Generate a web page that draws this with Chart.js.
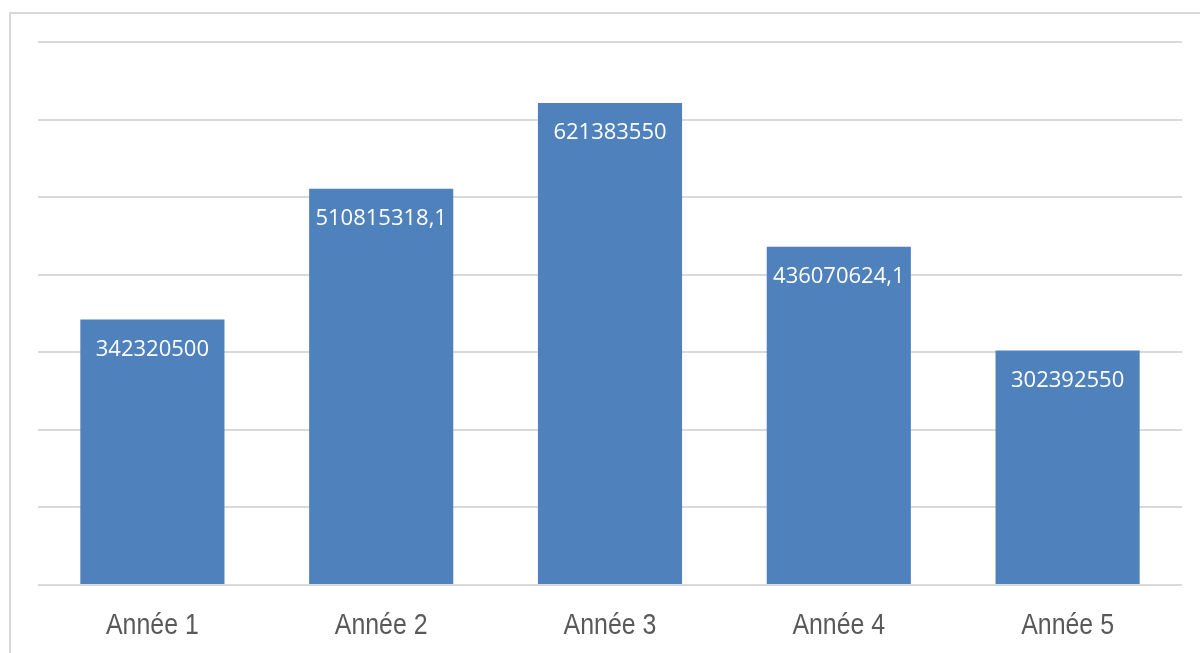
<!DOCTYPE html>
<html>
<head>
<meta charset="utf-8">
<script src="https://cdn.jsdelivr.net/npm/chart.js@4/dist/chart.umd.min.js"></script>
<style>
  html, body { margin: 0; padding: 0; background: #fff; overflow: hidden; }
  .frame { position: absolute; left: 9px; top: 12px; width: 1300px; height: 800px; border: 2px solid #d9d9d9; }
  #chart { position: absolute; left: 0; top: 0; }
</style>
</head>
<body>
<div class="frame"></div>
<canvas id="chart" width="1200" height="653"></canvas>
<script>
const categories = ['Année 1', 'Année 2', 'Année 3', 'Année 4', 'Année 5'];
const values = [342320500, 510815318.1, 621383550, 436070624.1, 302392550];
const yMax = 700000000;
const yStep = 100000000;

// labels inside the top of each bar, french decimal comma
const barLabels = {
  id: 'barLabels',
  afterDatasetsDraw(chart) {
    const ctx = chart.ctx;
    const meta = chart.getDatasetMeta(0);
    ctx.save();
    ctx.font = '22px "Open Sans", "Noto Sans", sans-serif';
    ctx.fillStyle = '#ffffff';
    ctx.textAlign = 'center';
    ctx.textBaseline = 'middle';
    meta.data.forEach((bar, i) => {
      const txt = String(values[i]).replace('.', ',');
      ctx.fillText(txt, bar.x, bar.y + 30);
    });
    ctx.restore();
  }
};

// category names, narrow look like the original (squeezed horizontally)
const narrowTicks = {
  id: 'narrowTicks',
  afterDraw(chart) {
    const ctx = chart.ctx;
    const xs = chart.scales.x;
    const sx = 0.83;
    ctx.save();
    ctx.font = '30px "Liberation Sans", Arial, sans-serif';
    ctx.fillStyle = '#595959';
    ctx.textAlign = 'center';
    ctx.textBaseline = 'alphabetic';
    ctx.scale(sx, 1);
    categories.forEach((c, i) => {
      ctx.fillText(c, xs.getPixelForValue(i) / sx, xs.top + 49);
    });
    ctx.restore();
  }
};

let ctx = document.getElementById('chart').getContext('2d');

let myChart = new Chart(ctx, {
  type: 'bar',
  data: {
    labels: categories,
    datasets: [{
      data: values,
      backgroundColor: '#4f81bd',
      borderWidth: 0,
      categoryPercentage: 1,
      barPercentage: 0.63
    }]
  },
  options: {
    responsive: false,
    animation: false,
    devicePixelRatio: 1,
    layout: { padding: { left: 38, right: 18, top: 42, bottom: 0 } },
    plugins: { legend: { display: false }, tooltip: { enabled: false } },
    scales: {
      x: {
        grid: { display: false, drawTicks: false },
        border: { display: false },
        ticks: { display: false },
        afterFit(scale) { scale.height = 68; }
      },
      y: {
        min: 0,
        max: yMax,
        ticks: { display: false, stepSize: yStep },
        grid: { color: '#d9d9d9', lineWidth: 2, drawTicks: false },
        border: { display: false },
        afterFit(scale) { scale.width = 0; }
      }
    }
  },
  plugins: [barLabels, narrowTicks]
});
</script>
</body>
</html>
